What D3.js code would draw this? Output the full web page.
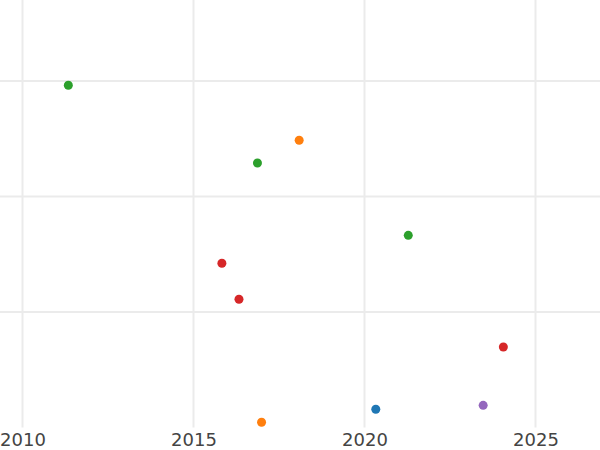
<!DOCTYPE html>
<html><head><meta charset="utf-8">
<script src="https://cdn.jsdelivr.net/npm/d3@7"></script>
<style>html,body{margin:0;padding:0;background:#fff;}</style>
</head><body>
<svg id="c" width="600" height="450"></svg>
<script>
const categories = ["blue", "orange", "green", "red", "purple"];
const colors = ["#1f77b4", "#ff7f0e", "#2ca02c", "#d62728", "#9467bd"];
const years = [2011.34, 2016.87, 2021.28, 2018.09, 2016.99, 2015.83, 2016.33, 2024.06, 2020.33, 2023.47];
const values = [2.963, 2.29, 1.664, 2.487, 0.045, 1.422, 1.11, 0.697, 0.158, 0.192];
const series = ["green", "green", "green", "orange", "orange", "red", "red", "red", "blue", "purple"];
const xTicks = [2010, 2015, 2020, 2025];
const yTicks = [1, 2, 3];

const svg = d3.select("#c");
const plotTop = 0, plotBottom = 427.5;
const x = d3.scaleLinear().domain([2010, 2025]).range([22.5, 535.5]);
const y = d3.scaleLinear().domain([0, 1]).range([plotBottom, plotBottom - 115.5]);
const color = d3.scaleOrdinal().domain(categories).range(colors);

// gridlines
svg.append("g").selectAll("line").data(yTicks).join("line")
  .attr("x1", 0).attr("x2", 600)
  .attr("y1", d => y(d)).attr("y2", d => y(d))
  .attr("stroke", "#ebebeb").attr("stroke-width", 2);
svg.append("g").selectAll("line").data(xTicks).join("line")
  .attr("x1", d => x(d)).attr("x2", d => x(d))
  .attr("y1", plotTop).attr("y2", plotBottom)
  .attr("stroke", "#ebebeb").attr("stroke-width", 2);

// x axis labels
const xAxis = d3.axisBottom(x).tickValues(xTicks).tickFormat(d3.format("d")).tickSize(0).tickPadding(6);
const gx = svg.append("g").attr("transform", `translate(0,${plotBottom})`).call(xAxis);
gx.select(".domain").remove();
gx.selectAll("text").attr("font-family", "DejaVu Sans, sans-serif").attr("font-size", 18).attr("fill", "#444");

// points
const data = years.map((d, i) => ({year: d, value: values[i], s: series[i]}));
svg.append("g").selectAll("circle").data(data).join("circle")
  .attr("cx", d => x(d.year)).attr("cy", d => y(d.value))
  .attr("r", 4.5).attr("fill", d => color(d.s));
</script>
</body></html>
